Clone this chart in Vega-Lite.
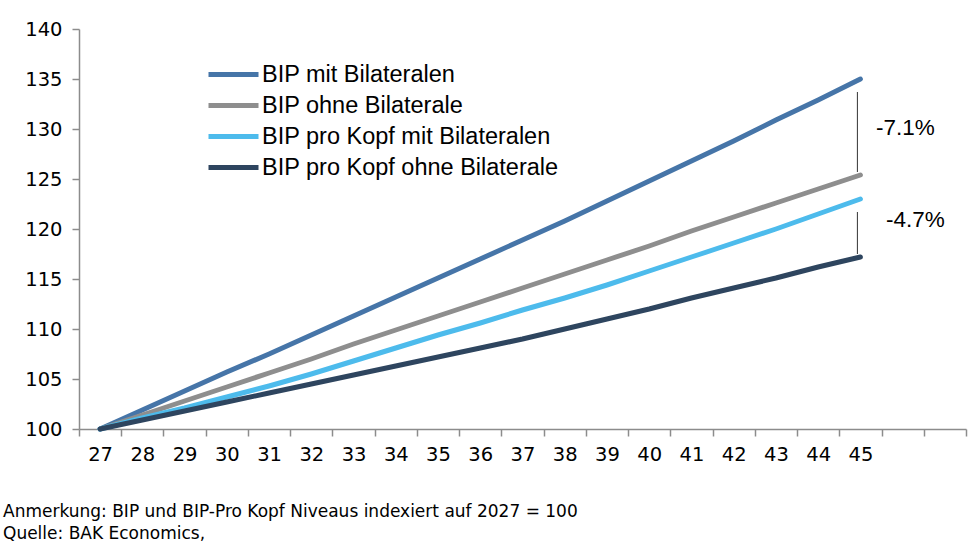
{
  "$schema": "https://vega.github.io/schema/vega-lite/v6.json",
  "description": "BIP und BIP pro Kopf mit und ohne Bilaterale, indexiert auf 2027 = 100",
  "width": 887,
  "height": 400,
  "autosize": {"type": "none"},
  "padding": {"left": 79, "top": 29, "right": 14, "bottom": 120},
  "background": "white",
  "config": {
    "view": {"stroke": null},
    "font": "Liberation Sans"
  },
  "title": {
    "text": ["Anmerkung: BIP und BIP-Pro Kopf Niveaus indexiert auf 2027 = 100", "Quelle: BAK Economics,"],
    "orient": "bottom",
    "anchor": "start",
    "frame": "group",
    "dx": -76,
    "offset": 40,
    "font": "DejaVu Sans",
    "fontSize": 17,
    "fontWeight": "normal",
    "lineHeight": 22,
    "color": "#000000"
  },
  "encoding": {
    "x": {
      "field": "year",
      "type": "ordinal",
      "scale": {
        "type": "band",
        "domain": ["27", "28", "29", "30", "31", "32", "33", "34", "35", "36", "37", "38", "39", "40", "41", "42", "43", "44", "45", "46", "47"],
        "paddingInner": 0,
        "paddingOuter": 0
      },
      "axis": {
        "title": null,
        "labelAngle": 0,
        "tickBand": "extent",
        "labelExpr": "datum.value > 45 ? '' : datum.label",
        "labelFont": "DejaVu Sans",
        "labelFontSize": 19.5,
        "labelColor": "#000000",
        "labelPadding": 9,
        "domainColor": "#8c8c8c",
        "domainWidth": 1.5,
        "tickColor": "#8c8c8c",
        "tickWidth": 1.5,
        "tickSize": 7,
        "grid": false
      }
    }
  },
  "layer": [
    {
      "data": {
        "values": [
          {"year": "27", "series": "BIP mit Bilateralen", "value": 100},
          {"year": "28", "series": "BIP mit Bilateralen", "value": 101.9},
          {"year": "29", "series": "BIP mit Bilateralen", "value": 103.8},
          {"year": "30", "series": "BIP mit Bilateralen", "value": 105.7},
          {"year": "31", "series": "BIP mit Bilateralen", "value": 107.5},
          {"year": "32", "series": "BIP mit Bilateralen", "value": 109.4},
          {"year": "33", "series": "BIP mit Bilateralen", "value": 111.3},
          {"year": "34", "series": "BIP mit Bilateralen", "value": 113.2},
          {"year": "35", "series": "BIP mit Bilateralen", "value": 115.1},
          {"year": "36", "series": "BIP mit Bilateralen", "value": 117.0},
          {"year": "37", "series": "BIP mit Bilateralen", "value": 118.9},
          {"year": "38", "series": "BIP mit Bilateralen", "value": 120.8},
          {"year": "39", "series": "BIP mit Bilateralen", "value": 122.8},
          {"year": "40", "series": "BIP mit Bilateralen", "value": 124.8},
          {"year": "41", "series": "BIP mit Bilateralen", "value": 126.8},
          {"year": "42", "series": "BIP mit Bilateralen", "value": 128.8},
          {"year": "43", "series": "BIP mit Bilateralen", "value": 130.9},
          {"year": "44", "series": "BIP mit Bilateralen", "value": 132.9},
          {"year": "45", "series": "BIP mit Bilateralen", "value": 135.0},
          {"year": "27", "series": "BIP ohne Bilaterale", "value": 100},
          {"year": "28", "series": "BIP ohne Bilaterale", "value": 101.4},
          {"year": "29", "series": "BIP ohne Bilaterale", "value": 102.8},
          {"year": "30", "series": "BIP ohne Bilaterale", "value": 104.2},
          {"year": "31", "series": "BIP ohne Bilaterale", "value": 105.6},
          {"year": "32", "series": "BIP ohne Bilaterale", "value": 107.0},
          {"year": "33", "series": "BIP ohne Bilaterale", "value": 108.5},
          {"year": "34", "series": "BIP ohne Bilaterale", "value": 109.9},
          {"year": "35", "series": "BIP ohne Bilaterale", "value": 111.3},
          {"year": "36", "series": "BIP ohne Bilaterale", "value": 112.7},
          {"year": "37", "series": "BIP ohne Bilaterale", "value": 114.1},
          {"year": "38", "series": "BIP ohne Bilaterale", "value": 115.5},
          {"year": "39", "series": "BIP ohne Bilaterale", "value": 116.9},
          {"year": "40", "series": "BIP ohne Bilaterale", "value": 118.3},
          {"year": "41", "series": "BIP ohne Bilaterale", "value": 119.8},
          {"year": "42", "series": "BIP ohne Bilaterale", "value": 121.2},
          {"year": "43", "series": "BIP ohne Bilaterale", "value": 122.6},
          {"year": "44", "series": "BIP ohne Bilaterale", "value": 124.0},
          {"year": "45", "series": "BIP ohne Bilaterale", "value": 125.4},
          {"year": "27", "series": "BIP pro Kopf mit Bilateralen", "value": 100},
          {"year": "28", "series": "BIP pro Kopf mit Bilateralen", "value": 101.1},
          {"year": "29", "series": "BIP pro Kopf mit Bilateralen", "value": 102.1},
          {"year": "30", "series": "BIP pro Kopf mit Bilateralen", "value": 103.2},
          {"year": "31", "series": "BIP pro Kopf mit Bilateralen", "value": 104.3},
          {"year": "32", "series": "BIP pro Kopf mit Bilateralen", "value": 105.5},
          {"year": "33", "series": "BIP pro Kopf mit Bilateralen", "value": 106.8},
          {"year": "34", "series": "BIP pro Kopf mit Bilateralen", "value": 108.1},
          {"year": "35", "series": "BIP pro Kopf mit Bilateralen", "value": 109.4},
          {"year": "36", "series": "BIP pro Kopf mit Bilateralen", "value": 110.6},
          {"year": "37", "series": "BIP pro Kopf mit Bilateralen", "value": 111.9},
          {"year": "38", "series": "BIP pro Kopf mit Bilateralen", "value": 113.1},
          {"year": "39", "series": "BIP pro Kopf mit Bilateralen", "value": 114.4},
          {"year": "40", "series": "BIP pro Kopf mit Bilateralen", "value": 115.8},
          {"year": "41", "series": "BIP pro Kopf mit Bilateralen", "value": 117.2},
          {"year": "42", "series": "BIP pro Kopf mit Bilateralen", "value": 118.6},
          {"year": "43", "series": "BIP pro Kopf mit Bilateralen", "value": 120.0},
          {"year": "44", "series": "BIP pro Kopf mit Bilateralen", "value": 121.5},
          {"year": "45", "series": "BIP pro Kopf mit Bilateralen", "value": 123.0},
          {"year": "27", "series": "BIP pro Kopf ohne Bilaterale", "value": 100},
          {"year": "28", "series": "BIP pro Kopf ohne Bilaterale", "value": 100.9},
          {"year": "29", "series": "BIP pro Kopf ohne Bilaterale", "value": 101.8},
          {"year": "30", "series": "BIP pro Kopf ohne Bilaterale", "value": 102.7},
          {"year": "31", "series": "BIP pro Kopf ohne Bilaterale", "value": 103.6},
          {"year": "32", "series": "BIP pro Kopf ohne Bilaterale", "value": 104.5},
          {"year": "33", "series": "BIP pro Kopf ohne Bilaterale", "value": 105.4},
          {"year": "34", "series": "BIP pro Kopf ohne Bilaterale", "value": 106.3},
          {"year": "35", "series": "BIP pro Kopf ohne Bilaterale", "value": 107.2},
          {"year": "36", "series": "BIP pro Kopf ohne Bilaterale", "value": 108.1},
          {"year": "37", "series": "BIP pro Kopf ohne Bilaterale", "value": 109.0},
          {"year": "38", "series": "BIP pro Kopf ohne Bilaterale", "value": 110.0},
          {"year": "39", "series": "BIP pro Kopf ohne Bilaterale", "value": 111.0},
          {"year": "40", "series": "BIP pro Kopf ohne Bilaterale", "value": 112.0},
          {"year": "41", "series": "BIP pro Kopf ohne Bilaterale", "value": 113.1},
          {"year": "42", "series": "BIP pro Kopf ohne Bilaterale", "value": 114.1},
          {"year": "43", "series": "BIP pro Kopf ohne Bilaterale", "value": 115.1},
          {"year": "44", "series": "BIP pro Kopf ohne Bilaterale", "value": 116.2},
          {"year": "45", "series": "BIP pro Kopf ohne Bilaterale", "value": 117.2}
        ]
      },
      "mark": {"type": "line", "strokeWidth": 5, "strokeCap": "round", "strokeJoin": "round"},
      "encoding": {
        "y": {
          "field": "value",
          "type": "quantitative",
          "scale": {"domain": [100, 140], "nice": false, "zero": false},
          "axis": {
            "title": null,
            "values": [100, 105, 110, 115, 120, 125, 130, 135, 140],
            "labelFont": "DejaVu Sans",
            "labelFontSize": 19.5,
            "labelColor": "#000000",
            "labelPadding": 10,
            "domainColor": "#8c8c8c",
            "domainWidth": 1.5,
            "tickColor": "#8c8c8c",
            "tickWidth": 1.5,
            "tickSize": 7,
            "grid": false
          }
        },
        "color": {
          "field": "series",
          "type": "nominal",
          "scale": {
            "domain": ["BIP mit Bilateralen", "BIP ohne Bilaterale", "BIP pro Kopf mit Bilateralen", "BIP pro Kopf ohne Bilaterale"],
            "range": ["#4675a8", "#8e8e8e", "#4dbbec", "#2e455f"]
          },
          "legend": {
            "title": null,
            "orient": "none",
            "legendX": 127,
            "legendY": 30,
            "symbolType": "stroke",
            "symbolSize": 2500,
            "symbolStrokeWidth": 5,
            "labelFontSize": 23.5,
            "labelColor": "#000000",
            "labelOffset": 1,
            "labelLimit": 400,
            "clipHeight": 31,
            "rowPadding": 0
          }
        }
      }
    },
    {
      "data": {
        "values": [
          {"year": "45", "top": 133.7, "bottom": 125.7},
          {"year": "45", "top": 121.7, "bottom": 117.5}
        ]
      },
      "mark": {"type": "rule", "color": "#333333", "strokeWidth": 1, "xOffset": -3},
      "encoding": {
        "y": {"field": "top", "type": "quantitative"},
        "y2": {"field": "bottom"}
      }
    },
    {
      "data": {
        "values": [
          {"year": "45", "pos": 130.1, "label": "-7.1%"}
        ]
      },
      "mark": {"type": "text", "fontSize": 22.5, "color": "#000000", "dx": 45, "align": "center", "baseline": "middle"},
      "encoding": {
        "y": {"field": "pos", "type": "quantitative"},
        "text": {"field": "label"}
      }
    },
    {
      "data": {
        "values": [
          {"year": "45", "pos": 120.9, "label": "-4.7%"}
        ]
      },
      "mark": {"type": "text", "fontSize": 22.5, "color": "#000000", "dx": 55, "align": "center", "baseline": "middle"},
      "encoding": {
        "y": {"field": "pos", "type": "quantitative"},
        "text": {"field": "label"}
      }
    }
  ]
}
